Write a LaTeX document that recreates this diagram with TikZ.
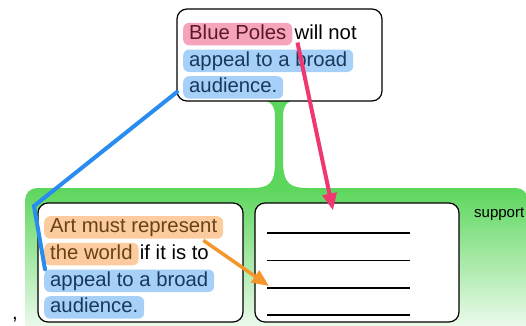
\documentclass[tikz,border=0pt]{standalone}
\usepackage{fontspec}
\setmainfont{Liberation Sans}
\usetikzlibrary{arrows.meta, positioning}

\definecolor{mapGreen}{RGB}{92,214,92}
\definecolor{poleHl}{RGB}{245,164,188}
\definecolor{poleTxt}{RGB}{90,24,40}
\definecolor{appealHl}{RGB}{166,208,247}
\definecolor{appealTxt}{RGB}{24,56,92}
\definecolor{artHl}{RGB}{252,204,158}
\definecolor{artTxt}{RGB}{104,66,20}
\definecolor{linkBlue}{RGB}{40,140,240}
\definecolor{arrowPink}{RGB}{240,56,112}
\definecolor{arrowOrange}{RGB}{245,150,42}

\tikzset{
	box/.style = {draw, line width=1.2pt, fill=white, rounded corners=10pt, inner sep=0pt},
	words/.style = {anchor=base west, font=\fontsize{20.3}{24}\selectfont, inner xsep=6pt, inner ysep=1.5pt, text height=15pt, text depth=4.5pt},
	hilite/.style 2 args = {words, fill=#1, text=#2, rounded corners=6pt},
	link/.style = {linkBlue, line width=4pt, line cap=round},
	pointer/.style = {#1, line width=4pt, -{Triangle[length=17pt, width=14pt]}},
}

\begin{document}
\begin{tikzpicture}[x=1pt, y=-1pt]
	\clip (0,0) rectangle (526,325);

	% green group behind the two lower boxes
	\shade[top color=mapGreen, middle color=mapGreen!50, bottom color=white, rounded corners=12pt] (25,345) -- (25,188) -- (528,188) -- (528,345) -- cycle;
	\fill[mapGreen] (258,100) -- (299,100) .. controls (286,100) and (283,106) .. (283,118) -- (283,160)
		.. controls (283,184) and (290,188) .. (308,188) -- (250,188)
		.. controls (270,188) and (275,184) .. (275,160) -- (275,118)
		.. controls (275,106) and (272,100) .. (258,100) -- cycle;

	\node[box, minimum width=205pt, minimum height=92pt] (claim) at (279.5,55) {};
	\node[box, minimum width=205pt, minimum height=119pt] (reason) at (140.5,262.5) {};
	\node[box, minimum width=204pt, minimum height=119pt] (blank) at (357,262.5) {};

	% claim
	\node[hilite={poleHl}{poleTxt}] (bp) at (183,39.3) {Blue Poles};
	\node[words, inner xsep=2pt] (wn) at (bp.base east) {will not};
	\node[hilite={appealHl}{appealTxt}] (ap1) at (183,66) {appeal to a broad};
	\node[hilite={appealHl}{appealTxt}] (au1) at (183,92.7) {audience.};

	% reason
	\node[hilite={artHl}{artTxt}] (am) at (44,232.7) {Art must represent};
	\node[hilite={artHl}{artTxt}] (tw) at (44,259.3) {the world};
	\node[words, inner xsep=1pt] (ii) at (tw.base east) {if it is to};
	\node[hilite={appealHl}{appealTxt}] (ap2) at (44,286) {appeal to a broad};
	\node[hilite={appealHl}{appealTxt}] (au2) at (44,312.7) {audience.};

	% empty lines
	\foreach \y [count=\i] in {233,260.5,288,315}
		\draw[line width=1.2pt] (267,\y) coordinate (ln\i) -- ++(143,0);

	\node[anchor=base west, inner sep=0pt, font=\fontsize{15}{18}\selectfont] (support) at (474,217) {support};
	\node[anchor=base west, inner sep=0pt, font=\fontsize{20.3}{24}\selectfont] (comma) at (12,319) {,};

	\coordinate (elbow) at (34,206);
	\draw[link] ([xshift=-6pt,yshift=-4.5pt]au1.west) -- (elbow) -- ([xshift=1pt]ap2.north west);

	\draw[pointer=arrowPink] ([xshift=5pt,yshift=3pt]bp.south east) -- ([xshift=-24pt,yshift=-8pt]blank.north);
	\draw[pointer=arrowOrange, line width=3.5pt] ([xshift=-20pt,yshift=-1.5pt]am.south east) -- ([xshift=2pt,yshift=2pt]ln3);
\end{tikzpicture}
\end{document}
